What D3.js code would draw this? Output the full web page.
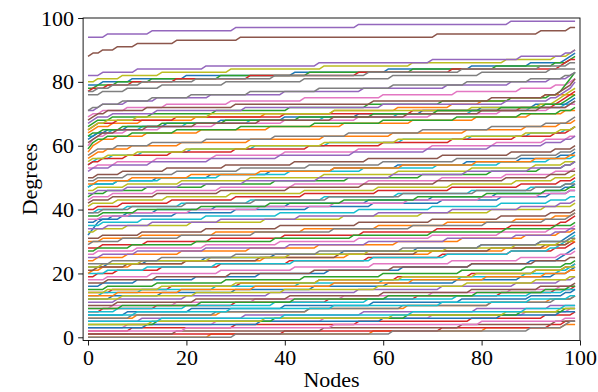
<!DOCTYPE html>
<html><head><meta charset="utf-8">
<script src="https://cdn.jsdelivr.net/npm/d3@7"></script>
<style>body{margin:0;background:#fff}svg{display:block}</style>
</head><body>
<svg id="c" width="598" height="392"></svg>
<script>
const nodeCount = 100;
const xTicks = [0, 20, 40, 60, 80, 100];
const yTicks = [0, 20, 40, 60, 80, 100];
const xLabel = "Nodes";
const yLabel = "Degrees";

// degree of node 0 for each series
const startDegree = [
  79, 64, 78, 77, 94, 88, 69, 77, 80, 63,
  62, 58, 66, 65, 82, 68, 60, 76, 65, 54,
  47, 56, 63, 54, 71, 61, 53, 71, 55, 47,
  36, 48, 59, 40, 67, 50, 43, 57, 46, 39,
  32, 30, 44, 28, 52, 42, 37, 49, 41, 35,
  22, 24, 38, 19, 45, 31, 26, 39, 33, 20,
  16, 20, 27, 14, 34, 21, 18, 29, 22, 13,
  12, 13, 15, 8, 25, 17, 9, 23, 14, 8,
  7, 6, 9, 2, 11, 10, 3, 6, 12, 7,
  3, 0, 4, 1, 5, 1, 2, 0, 4, 5
];
// node indices at which each series' degree goes up by one
const stepAt = [
  [3,9,20,42,61,78,90,97,98,99],
  [1,2,5,11,22,36,50,63,74,80,86,93],
  [2,6,13,27,45,66,83,95,98,99],
  [1,4,9,18,33,55,74,96,97,98],
  [4,13,30,55,86],
  [1,3,6,10,18,31,71,92,98],
  [1,3,8,16,29,44,60,75,88,95,98,99],
  [2,5,11,22,38,57,76,92,98],
  [2,7,15,29,48,66,85,95,98,99],
  [2,5,11,20,33,48,63,78,90,97,99],

  [1,2,4,8,16,27,40,55,68,80,91,98,99],
  [1,1,2,3,6,12,23,37,52,66,79,90,97],
  [1,2,5,13,26,41,57,72,86,94,96,97,97,98,98,99,99],
  [1,2,6,18,40,66,88,95,96,97,98,99],
  [3,10,24,47,70,88,97,99],
  [1,2,4,12,30,58,82,93,96,97,98,99,99],
  [1,1,2,4,8,15,26,40,55,70,84,94,98],
  [3,8,15,28,44,62,80,94],
  [1,2,4,10,25,50,78,92,95,96,97,98,99],
  [1,2,5,11,21,34,49,64,78,90,97,99],

  [1,6,14,25,37,50,63,77,88,96,99],
  [1,2,4,9,19,33,48,62,77,89,96,99],
  [1,3,7,15,28,43,58,71,84,93,97,98,99],
  [1,3,8,17,30,45,60,74,87,95,98,99],
  [2,3,8,14,25,40,56,73,86,94,98,99],
  [1,2,3,6,12,22,35,50,65,80,92,98,99],
  [2,6,14,26,40,55,70,83,93,98],
  [1,3,7,13,21,33,47,62,77,90,97,99],
  [1,4,10,20,33,48,63,77,89,96,99],
  [1,6,15,27,41,56,71,84,94,99],

  [2,7,18,30,45,58,72,84,94,98],
  [2,9,21,35,50,64,79,91,98],
  [1,1,2,4,9,18,31,46,60,75,88,96,99],
  [2,7,17,30,44,59,74,88,96,99],
  [1,2,5,14,32,60,85,94,96,97,98,99,99],
  [2,7,16,28,42,57,72,86,95,99],
  [1,5,14,27,42,57,72,85,95,99],
  [1,2,6,13,24,38,53,68,82,93,98,99],
  [2,8,19,33,48,63,78,91,97],
  [2,8,19,33,48,63,78,90,97,99],

  [1,1,2,2,3,5,8,14,26,41,57,70,83,93,97,99],
  [3,11,26,44,59,73,87,95,99],
  [1,4,12,24,38,53,68,82,92,97,99],
  [3,12,25,40,56,71,86,96,98,99],
  [1,5,13,25,39,54,69,82,93,97,99],
  [1,5,14,27,41,56,71,85,94,98],
  [3,9,21,35,50,65,80,92,98],
  [2,8,18,31,45,60,75,88,96,99],
  [1,6,16,29,44,59,74,87,95,99],
  [3,11,24,39,55,70,84,94,98],

  [4,12,24,38,52,67,80,92,97,98,99],
  [2,8,19,33,47,63,76,89,96,99],
  [3,10,23,37,52,67,81,93,98],
  [2,6,15,27,41,57,72,86,95,98,99],
  [2,8,19,32,47,62,77,90,97,99],
  [3,11,24,39,55,70,84,94,99],
  [2,10,24,39,55,70,84,94,99],
  [3,9,20,34,49,64,79,91,97],
  [2,8,21,36,52,68,82,93,99],
  [4,12,26,42,58,73,86,94,96,97,98,99],

  [3,10,22,35,49,64,78,90,96,97,98,99],
  [1,3,9,20,36,53,70,85,94,98],
  [2,9,22,38,54,70,85,95,99],
  [5,17,31,47,63,78,91,97,99],
  [4,13,27,43,59,74,88,96,99],
  [2,8,20,35,51,67,82,93,98,99],
  [4,13,27,42,58,74,88,96,99],
  [1,7,19,34,50,66,81,93,98,99],
  [3,11,25,41,57,73,87,96,99],
  [3,11,26,43,60,76,89,96,98,99],

  [5,15,30,46,61,75,88,95,98,99],
  [6,19,34,50,66,81,93,98],
  [4,14,28,44,60,76,89,97,99],
  [3,14,30,49,67,84,95,99],
  [3,10,24,41,57,73,87,95,98],
  [4,14,29,46,62,78,91,98],
  [5,18,34,52,70,86,96],
  [5,15,30,47,64,80,92,98],
  [4,15,30,47,64,79,91,97],
  [6,20,38,57,75,90,97],

  [8,21,40,58,76,90,97,99],
  [10,27,45,65,82,94,99],
  [7,23,42,61,79,93,98],
  [9,30,55,78,93,99],
  [6,20,37,55,72,87,96,99],
  [6,22,41,60,78,92,99],
  [8,26,48,70,89,98],
  [9,26,45,64,82,95,99],
  [7,22,40,59,77,91,98],
  [10,29,50,72,90,98],

  [12,35,60,84,96],
  [25,58,81,97],
  [14,38,65,88,97],
  [40,72,94,97],
  [11,32,56,79,94],
  [18,48,76,95],
  [20,50,80,97],
  [30,62,90,97,98],
  [13,36,62,85,96],
  [15,40,66,89,97]
];

const svg = d3.select("#c");
const x = d3.scaleLinear().domain([-1, 100]).range([83.1, 580]);
const y = d3.scaleLinear().domain([-1, 100]).range([340.5, 18]);
const colors = d3.schemeCategory10;
const font = "'Liberation Serif','Times New Roman',serif";

svg.append("defs").append("clipPath").attr("id", "clip")
  .append("rect").attr("x", x(-1)).attr("y", y(100)).attr("width", x(100) - x(-1)).attr("height", y(-1) - y(100));

const nodes = d3.range(nodeCount);
const seriesData = startDegree.map((s, i) => nodes.map(n => ({n, d: s + stepAt[i].filter(k => k <= n).length})));

const line = d3.line().x(p => x(p.n)).y(p => y(p.d));
svg.append("g").attr("clip-path", "url(#clip)")
  .selectAll("path").data(seriesData).join("path")
  .attr("d", line).attr("fill", "none")
  .attr("stroke", (d, i) => colors[i % 10]).attr("stroke-width", 1.5)
  .attr("stroke-linejoin", "round").attr("stroke-linecap", "butt");

const xAxis = svg.append("g").attr("transform", `translate(0,${y(-1)})`)
  .call(d3.axisBottom(x).tickValues(xTicks).tickSize(5).tickPadding(4));
const yAxis = svg.append("g").attr("transform", `translate(${x(-1)},0)`)
  .call(d3.axisLeft(y).tickValues(yTicks).tickSize(5).tickPadding(4));
[xAxis, yAxis].forEach(a => {
  a.select(".domain").remove();
  a.selectAll("line").attr("stroke", "#000").attr("stroke-width", 0.9);
  a.selectAll("text").attr("font-family", font).attr("font-size", 22).attr("fill", "#000");
});

svg.append("rect").attr("x", x(-1)).attr("y", y(100))
  .attr("width", x(100) - x(-1)).attr("height", y(-1) - y(100))
  .attr("fill", "none").attr("stroke", "#000").attr("stroke-width", 0.9);

svg.append("text").attr("x", (x(-1) + x(100)) / 2).attr("y", 387)
  .attr("text-anchor", "middle").attr("font-family", font).attr("font-size", 22).text(xLabel);
svg.append("text").attr("transform", `translate(37,${(y(-1) + y(100)) / 2}) rotate(-90)`)
  .attr("text-anchor", "middle").attr("font-family", font).attr("font-size", 22).text(yLabel);
</script>
</body></html>
